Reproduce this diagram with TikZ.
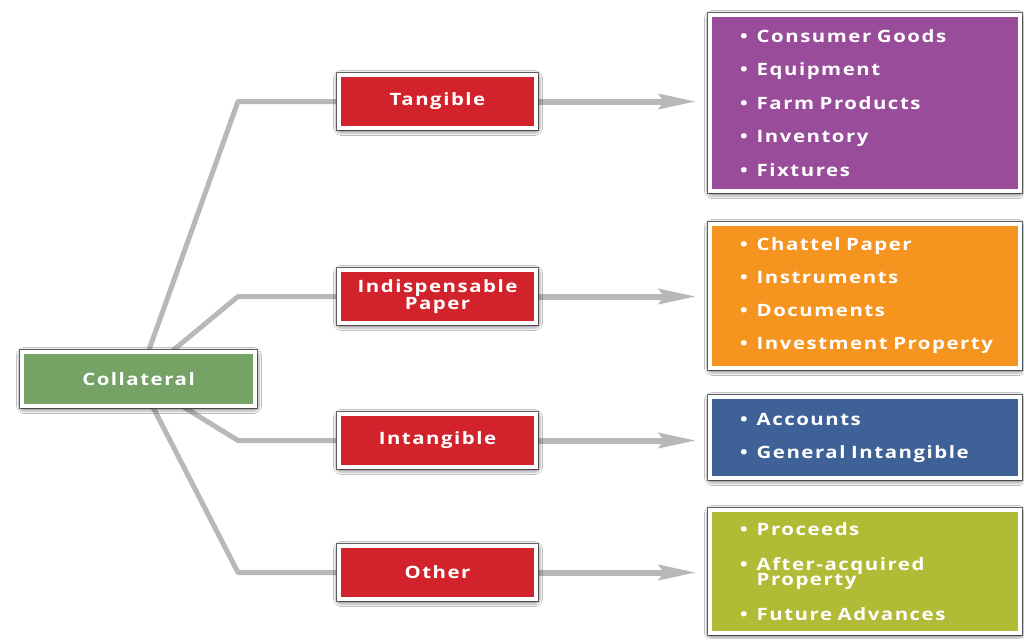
\documentclass[tikz,border=0pt]{standalone}
\usepackage{fontspec}
\setmainfont{Open Sans}[LetterSpace=9, FakeStretch=1.2]
\usetikzlibrary{arrows.meta,shadows.blur,backgrounds}
\definecolor{collgreen}{RGB}{116,163,101}
\definecolor{catred}{RGB}{210,34,44}
\definecolor{lpurple}{RGB}{152,76,154}
\definecolor{lorange}{RGB}{246,148,32}
\definecolor{lblue}{RGB}{62,98,152}
\definecolor{llime}{RGB}{177,187,54}
\definecolor{conngray}{RGB}{184,184,187}
\tikzset{
  box/.style={draw=white, line width=3.5pt, text=white,
    font=\bfseries\fontsize{17}{16.5}\selectfont, inner sep=0pt, outer sep=0pt,
    preaction={draw=black!55, line width=6pt},
    blur shadow={shadow xshift=0.5pt, shadow yshift=-1.5pt, shadow blur radius=6pt, shadow opacity=100, shadow blur extra rounding=1pt}},
  catbox/.style={box, fill=catred, minimum width=197pt, minimum height=53pt, align=center},
  listbox/.style={box, inner xsep=30pt, text width=250pt, align=left},
  conn/.style={draw=conngray, line width=5pt, line join=round},
  arr/.style={draw=conngray, line width=6pt, -{Stealth[length=37pt,width=15pt,inset=5pt]}, shorten >=14pt}
}
\newcommand{\itm}{\textbullet\hspace{9pt}}
\newcommand{\itmsp}{\hphantom{\textbullet\hspace{9pt}}}
\begin{document}
\begin{tikzpicture}[x=1pt,y=-1pt]
\useasboundingbox (0,0) rectangle (1024,638);
\coordinate (bx) at (238,0);
\node[box, fill=collgreen, minimum width=233pt, minimum height=54pt] (coll) at (138.5,379) {Collateral};
\node[catbox] (tang) at (437.5,101.5) {Tangible};
\node[catbox] (indp) at (437.5,296.5) {Indispensable\\Paper};
\node[catbox] (intg) at (437.5,440.5) {Intangible};
\node[catbox] (othr) at (437.5,572.5) {Other};
\node[listbox, fill=lpurple, minimum height=176pt] (lp) at (865,103)
  {\itm Consumer Goods\\[16.2pt]\itm Equipment\\[16.2pt]\itm Farm Products\\[16.2pt]\itm Inventory\\[16.2pt]\itm Fixtures};
\node[listbox, fill=lorange, minimum height=144pt] (lo) at (865,296)
  {\itm Chattel Paper\\[16.5pt]\itm Instruments\\[16.5pt]\itm Documents\\[16.5pt]\itm Investment Property};
\node[listbox, fill=lblue, minimum height=81pt] (lb) at (865,437.5)
  {\itm Accounts\\[16.5pt]\itm General Intangible};
\node[listbox, fill=llime, minimum height=123pt] (ll) at (865,571.5)
  {\itm Proceeds\\[18pt]\itm After-acquired\\[-1pt]\itmsp Property\\[16.5pt]\itm Future Advances};
\begin{pgfonlayer}{background}
\fill[white] (0,0) rectangle (1024,638);
\draw[conn] (coll.center) -- (tang.west -| bx) -- (tang.west);
\draw[conn] (coll.center) -- (indp.west -| bx) -- (indp.west);
\draw[conn] (coll.center) -- (intg.west -| bx) -- (intg.west);
\draw[conn] (coll.center) -- (othr.west -| bx) -- (othr.west);
\draw[arr] (tang.east) -- (tang.east -| lp.west);
\draw[arr] (indp.east) -- (indp.east -| lo.west);
\draw[arr] (intg.east) -- (intg.east -| lb.west);
\draw[arr] (othr.east) -- (othr.east -| ll.west);
\end{pgfonlayer}
\end{tikzpicture}
\end{document}
